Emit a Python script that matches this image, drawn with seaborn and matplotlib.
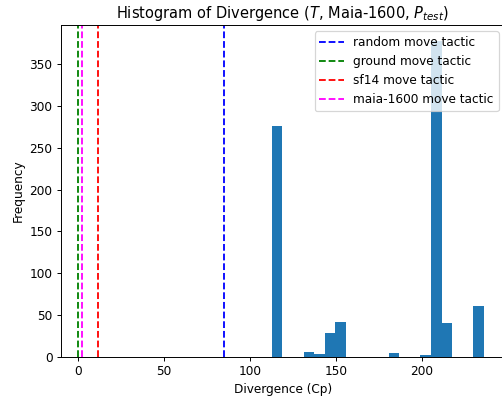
import matplotlib
matplotlib.use("Agg")
import matplotlib.pyplot as plt
import seaborn as sns
import numpy as np
import pandas as pd

# Histogram data (bin centers of non-empty bins and their counts)
bin_centers = [115.89, 134.43, 140.61, 146.79, 152.97, 183.87, 202.41, 208.59, 214.77, 233.31]
bin_counts = [276, 6, 3, 28, 42, 4, 2, 378, 40, 61]
hist_range = (112.8, 236.4)
n_bins = 20

# Reference lines
line_labels = ["random move tactic", "ground move tactic", "sf14 move tactic", "maia-1600 move tactic"]
line_values = [85.1, -0.3, 11.6, 2.2]
line_colors = ["blue", "green", "red", "magenta"]

df = pd.DataFrame({"divergence": bin_centers, "count": bin_counts})

DPI = 87.5
fig = plt.figure(figsize=(503 / DPI, 401 / DPI), dpi=DPI)
ax = fig.add_axes([61 / 503, 44.3 / 401, (504.8 - 61) / 503, (356.7 - 25) / 401])

sns.histplot(data=df, x="divergence", weights="count", bins=n_bins, binrange=hist_range,
             color="#1f77b4", alpha=1, linewidth=0, ax=ax)

for lab, val, col in zip(line_labels, line_values, line_colors):
    ax.axvline(val, color=col, linestyle="--", label=lab)

ax.set_xlim(-10.0, 248.5)
ax.set_title(r"Histogram of Divergence ($T$, Maia-1600, $P_{test}$)")
ax.set_xlabel("Divergence (Cp)")
ax.set_ylabel("Frequency")
ax.legend(loc="upper right")

fig.savefig("out.png", dpi=DPI)
